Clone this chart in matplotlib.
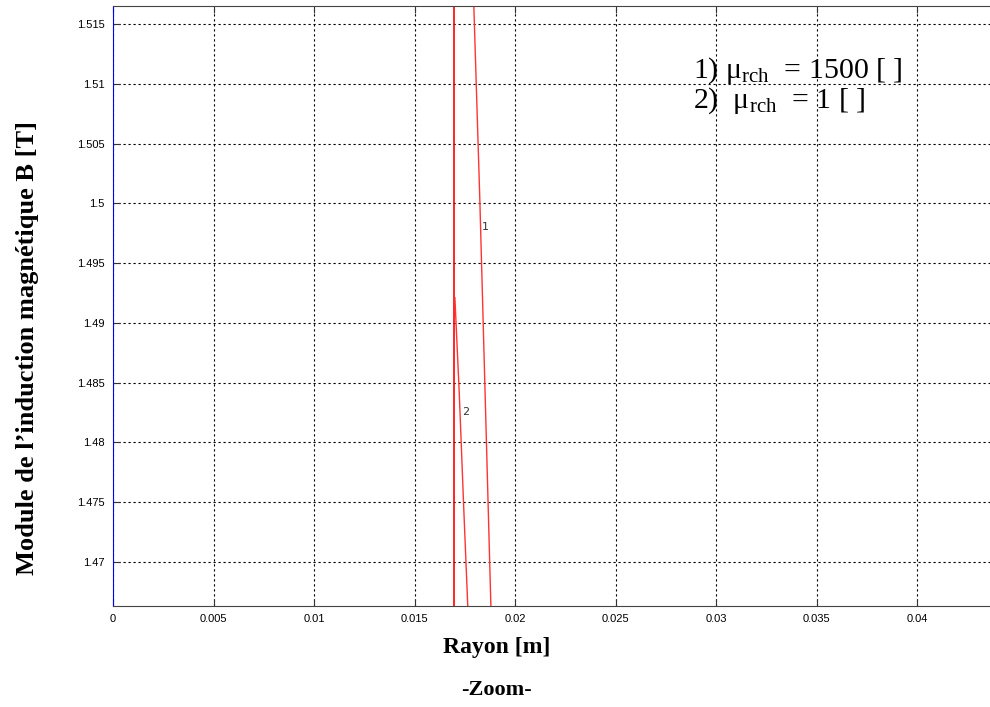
import numpy as np
import matplotlib
matplotlib.use('Agg')
import matplotlib.pyplot as plt

plt.rcParams['mathtext.fontset'] = 'custom'
plt.rcParams['mathtext.rm'] = 'Liberation Serif'
plt.rcParams['mathtext.it'] = 'Liberation Serif:italic'

## Module de B vs rayon (zoom)

# courbe verticale (rouge vif)
r_a = [0.01696, 0.01696]
B_a = [1.4663, 1.5166]

# courbe 1 : mu_rch = 1500
r_1 = [0.01794, 0.01824, 0.01852, 0.01879]
B_1 = [1.5166, 1.5003, 1.4830, 1.4663]

# courbe 2 : mu_rch = 1
r_2 = [0.01700, 0.01722, 0.01744, 0.01764]
B_2 = [1.4921, 1.4840, 1.4745, 1.4663]

x_ticks = [0, 0.005, 0.01, 0.015, 0.02, 0.025, 0.03, 0.035, 0.04]
y_ticks = [1.47, 1.475, 1.48, 1.485, 1.49, 1.495, 1.5, 1.505, 1.51, 1.515]

fig = plt.figure(figsize=(9.9, 7.07), dpi=100)
ax = fig.add_axes([113/990, 101/707, 905/990, 600.5/707])

ax.plot(r_a, B_a, color='red', lw=1.2)
ax.plot(r_1, B_1, color='#ff3333', lw=1.0)
ax.plot(r_2, B_2, color='#ff3333', lw=1.0)

ax.text(0.01834, 1.4980, '1', fontsize=8, family='DejaVu Sans', color='#333333', ha='left', va='center')
ax.text(0.01737, 1.4825, '2', fontsize=8, family='DejaVu Sans', color='#333333', ha='left', va='center')

ax.set_xlim(0, 0.045)
ax.set_ylim(1.4663, 1.51655)
ax.set_xticks(x_ticks)
ax.set_yticks(y_ticks)
ax.set_xticklabels(['%g' % v for v in x_ticks])
ax.set_yticklabels(['%g' % v for v in y_ticks])
ax.tick_params(direction='in', length=5, labelsize=8, top=True, right=True, colors='#333333', pad=6)
for lab in ax.get_xticklabels() + ax.get_yticklabels():
    lab.set_family('Liberation Sans')
    lab.set_color('black')

ax.grid(True, linestyle=(0, (2, 2.5)), color='black', lw=0.8)
for s in ax.spines.values():
    s.set_color('#444444')
ax.spines['left'].set_color('blue')

fig.text(28/990, 1 - 348/707, "Module de l’induction magnétique B [T]", rotation=90,
         fontsize=19, fontweight='bold', family='Liberation Serif', ha='center', va='center')
fig.text(497/990, 1 - 648/707, 'Rayon [m]', fontsize=17, fontweight='bold',
         family='Liberation Serif', ha='center', va='center')
fig.text(497/990, 1 - 690/707, '-Zoom-', fontsize=16, fontweight='bold',
         family='Liberation Serif', ha='center', va='center')

fig.text(693/990, 1 - 78/707, r'1) $\mathrm{\mu_{rch}}$  = 1500 [ ]', fontsize=21.5,
         family='Liberation Serif', ha='left', va='baseline')
fig.text(693/990, 1 - 108/707, r'2)  $\mathrm{\mu_{rch}}$  = 1 [ ]', fontsize=21.5,
         family='Liberation Serif', ha='left', va='baseline')

fig.savefig('out.png', dpi=100)
